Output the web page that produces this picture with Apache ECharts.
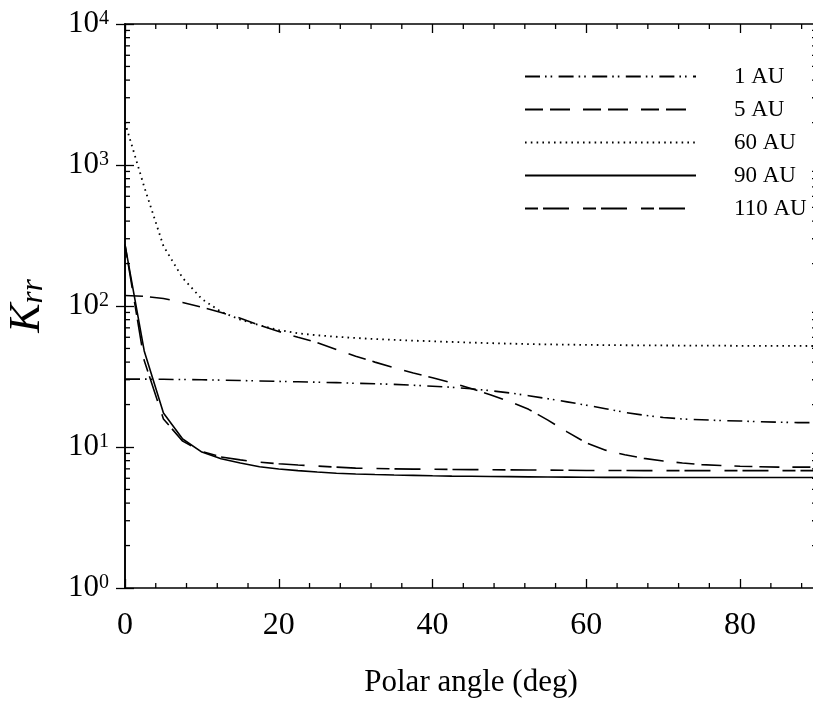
<!DOCTYPE html>
<html>
<head>
<meta charset="utf-8">
<script src="https://cdn.jsdelivr.net/npm/echarts@6/dist/echarts.min.js"></script>
<style>
html,body{margin:0;padding:0;background:#fff;}
#chart{width:813px;height:705px;}
</style>
</head>
<body>
<div id="chart"></div>
<script>
// Polar angle samples (deg)
const angles = [0,2.5,5,7.5,10,12.5,15,17.5,20,22.5,25,27.5,30,32.5,35,37.5,40,42.5,45,47.5,50,52.5,55,57.5,60,62.5,65,67.5,70,72.5,75,77.5,80,82.5,85,87.5,90];

const seriesNames = ['1 AU','5 AU','60 AU','90 AU','110 AU'];

const k1AU = [30.3,30.3,30.2,30.1,30,29.8,29.6,29.4,29.2,29,28.8,28.6,28.3,28.1,27.8,27.4,27,26.5,25.9,25.1,24.2,23.1,22,20.9,19.8,18.7,17.6,16.8,16.2,15.8,15.6,15.4,15.3,15.1,15,14.9,14.9];
const k5AU = [118.8,117,113,106,98,90,82,73,66,60,55,49,44,40,36.5,33.5,31,28.5,26,23.5,21,18.5,15.5,12.8,10.7,9.5,8.8,8.3,7.95,7.7,7.5,7.4,7.3,7.25,7.2,7.2,7.2];
const k60AU = [2000,700,266,158,112,91,80,73,67.5,64,62,60.5,59.3,58.3,57.5,56.8,56.2,55.6,55,54.5,54.1,53.7,53.4,53.2,53,52.8,52.7,52.6,52.5,52.4,52.3,52.3,52.2,52.2,52.1,52.1,52];
const k90AU = [272,48,17.4,11.4,9.2,8.25,7.7,7.25,6.98,6.8,6.65,6.52,6.44,6.38,6.33,6.29,6.25,6.22,6.2,6.18,6.16,6.14,6.12,6.11,6.1,6.09,6.09,6.08,6.08,6.08,6.07,6.07,6.07,6.07,6.07,6.07,6.07];
const k110AU = [272,41,15.8,11,9.3,8.5,8.1,7.8,7.6,7.45,7.32,7.2,7.08,7.04,7.0,6.97,6.95,6.93,6.91,6.9,6.88,6.87,6.86,6.84,6.82,6.81,6.81,6.8,6.8,6.8,6.8,6.8,6.8,6.8,6.8,6.8,6.8];

// Axis ticks
const xMin = 0, xMax = 90, xMajor = 20;
const xMinorTicks = [4,8,12,16,24,28,32,36,44,48,52,56,64,68,72,76,84,88];
const yMin = 1, yMax = 10000;
const yMinorTicks = [2,3,4,5,6,7,8,9,20,30,40,50,60,70,80,90,200,300,400,500,600,700,800,900,2000,3000,4000,5000,6000,7000,8000,9000];

const FONT = "'Liberation Serif', 'Times New Roman', serif";

function pairs(vals){ return angles.map((a,i)=>[a, vals[i]]); }

const styles = {
  '1 AU':  {type:[15,5,1.6,4,1.6,6.4], width:1.6},
  '5 AU':  {type:[18,7,20,13], width:1.6},
  '60 AU': {type:[1.6,4.2], width:1.8},
  '90 AU': {type:'solid', width:1.6},
  '110 AU':{type:[13,5,26,14], width:1.6}
};
const valuesByName = {'1 AU':k1AU,'5 AU':k5AU,'60 AU':k60AU,'90 AU':k90AU,'110 AU':k110AU};

const lineSeries = seriesNames.map(n => ({
  name: n,
  type: 'line',
  xAxisIndex: 0, yAxisIndex: 0,
  data: pairs(valuesByName[n]),
  symbol: 'none',
  showSymbol: false,
  smooth: false,
  lineStyle: {color:'#000', width: styles[n].width, type: styles[n].type, cap:'butt'},
  itemStyle: {color:'#000'},
  emphasis: {disabled:true},
  animation: false
}));

const tickStyle = {stroke:'#000', lineWidth:1.3};

const xMinorSeries = {
  type:'custom', silent:true, animation:false, clip:false, z:10,
  xAxisIndex:0, yAxisIndex:0,
  data: xMinorTicks.map(v => [v, yMin]),
  renderItem: function(params, api){
    const v = api.value(0);
    const b = api.coord([v, yMin]);
    const t = api.coord([v, yMax]);
    return {type:'group', children:[
      {type:'line', shape:{x1:b[0], y1:b[1], x2:b[0], y2:b[1]-5}, style:tickStyle},
      {type:'line', shape:{x1:t[0], y1:t[1], x2:t[0], y2:t[1]+5}, style:tickStyle}
    ]};
  }
};
const yMinorSeries = {
  type:'custom', silent:true, animation:false, clip:false, z:10,
  xAxisIndex:0, yAxisIndex:0,
  data: yMinorTicks.map(v => [xMin, v]),
  renderItem: function(params, api){
    const v = api.value(1);
    const l = api.coord([xMin, v]);
    const r = api.coord([xMax, v]);
    return {type:'group', children:[
      {type:'line', shape:{x1:l[0], y1:l[1], x2:l[0]+5, y2:l[1]}, style:tickStyle},
      {type:'line', shape:{x1:r[0], y1:r[1], x2:r[0]-5, y2:r[1]}, style:tickStyle}
    ]};
  }
};

const axisLine = {show:true, lineStyle:{color:'#000', width:1.6}};
const axisTick = {show:true, inside:true, length:9, lineStyle:{color:'#000', width:1.3}};

const option = {
  backgroundColor:'#fff',
  animation:false,
  grid:{left:125, top:24, width:692, height:564, containLabel:false, outerBoundsMode:'none'},
  legend:{
    data: seriesNames,
    orient:'vertical',
    left:519, top:60,
    itemWidth:171, itemHeight:14, itemGap:10,
    itemStyle:{opacity:0},
    textStyle:{fontFamily:FONT, fontSize:23, color:'#000', padding:[0,0,0,33]},
    selectedMode:false
  },
  xAxis:[
    {type:'value', min:xMin, max:xMax, interval:xMajor, position:'bottom',
     axisLine:axisLine, axisTick:axisTick, splitLine:{show:false},
     axisLabel:{show:true, margin:22, fontFamily:FONT, fontSize:32, color:'#000', showMaxLabel:false},
     name:'Polar angle (deg)', nameLocation:'middle', nameGap:79,
     nameTextStyle:{fontFamily:FONT, fontSize:31, color:'#000'}},
    {type:'value', min:xMin, max:xMax, interval:xMajor, position:'top',
     axisLine:axisLine, axisTick:axisTick, splitLine:{show:false}, axisLabel:{show:false}}
  ],
  yAxis:[
    {type:'log', logBase:10, min:yMin, max:yMax, position:'left',
     axisLine:axisLine, axisTick:axisTick, splitLine:{show:false},
     axisLabel:{show:true, margin:16, color:'#000',
       formatter:function(v){ const e = Math.round(Math.log10(v)); return '{b|10}{s|' + e + '}'; },
       rich:{b:{fontFamily:FONT, fontSize:31, color:'#000'}, s:{fontFamily:FONT, fontSize:20, color:'#000', verticalAlign:'top'}}},
     name:'{k|K}{s|rr}', nameLocation:'middle', nameRotate:90, nameGap:76,
     nameTextStyle:{rich:{k:{fontFamily:FONT, fontSize:44, fontStyle:'italic', color:'#000'}, s:{fontFamily:FONT, fontSize:31, fontStyle:'italic', color:'#000', verticalAlign:'bottom'}}}},
    {type:'log', logBase:10, min:yMin, max:yMax, position:'right',
     axisLine:axisLine, axisTick:axisTick, splitLine:{show:false}, axisLabel:{show:false}}
  ],
  series: lineSeries.concat([xMinorSeries, yMinorSeries])
};

const chart = echarts.init(document.getElementById('chart'), null, {renderer:'canvas'});
chart.setOption(option);
</script>
</body>
</html>
